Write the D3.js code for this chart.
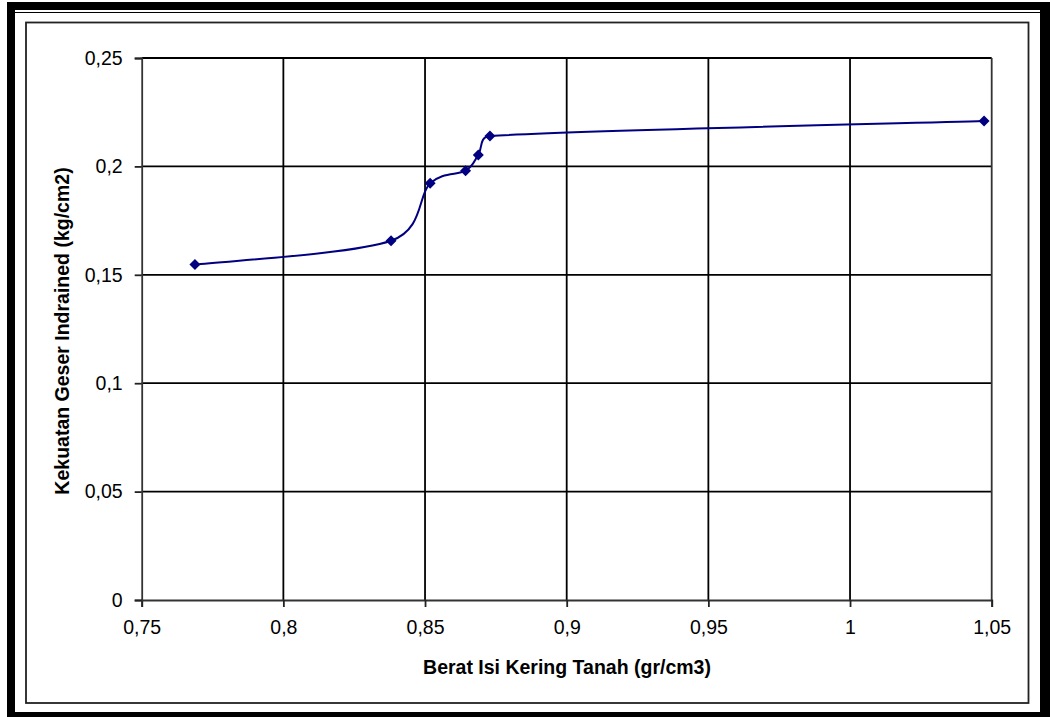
<!DOCTYPE html>
<html>
<head>
<meta charset="utf-8">
<script src="https://cdn.jsdelivr.net/npm/d3@7"></script>
<style>
  html, body { margin: 0; padding: 0; background: #fff; }
  svg { display: block; }
  text { font-family: "Liberation Sans", Arial, sans-serif; fill: #000; }
</style>
</head>
<body>
<svg id="chart" width="1050" height="717"></svg>
<script>
// ---- data ----
const beratIsi = [0.7688, 0.8380, 0.8518, 0.8643, 0.8688, 0.8729, 1.0473];
const kekuatanGeser = [0.1547, 0.1657, 0.1922, 0.1980, 0.2053, 0.2140, 0.2209];
const xTickValues = [0.75, 0.8, 0.85, 0.9, 0.95, 1, 1.05];
const yTickValues = [0, 0.05, 0.1, 0.15, 0.2, 0.25];
const xTitle = "Berat Isi Kering Tanah (gr/cm3)";
const yTitle = "Kekuatan Geser Indrained (kg/cm2)";

const points = beratIsi.map((x, i) => ({ x, y: kekuatanGeser[i] }));

const locale = d3.formatLocale({ decimal: ",", thousands: ".", grouping: [3], currency: ["", ""] });
const fmt = locale.format("~g");

// Spreadsheet-style smoothed line (Bezier with capped control points)
function SmoothCurve(context) { this._context = context; }
SmoothCurve.prototype = {
  areaStart() { this._line = 0; },
  areaEnd() { this._line = NaN; },
  lineStart() { this._pts = []; },
  point(x, y) { this._pts.push([+x, +y]); },
  lineEnd() {
    const p = this._pts, n = p.length, c = this._context;
    if (!n) return;
    c.moveTo(p[0][0], p[0][1]);
    if (n === 1) return;
    const dist = (a, b) => Math.hypot(b[0] - a[0], b[1] - a[1]);
    for (let i = 0; i < n - 1; i++) {
      const p0 = p[Math.max(0, i - 1)], p1 = p[i], p2 = p[i + 1], p3 = p[Math.min(n - 1, i + 2)];
      const d02 = dist(p0, p2), d12 = dist(p1, p2), d13 = dist(p1, p3);
      let f1 = 1 / 6, f2 = 1 / 6;
      if (d02 / 6 >= d12 / 2 && d02 > 0) f1 = d12 / d02 / 2;
      if (d13 / 6 >= d12 / 2 && d13 > 0) f2 = d12 / d13 / 2;
      const c1 = [p1[0] + (p2[0] - p0[0]) * f1, p1[1] + (p2[1] - p0[1]) * f1];
      const c2 = [p2[0] - (p3[0] - p1[0]) * f2, p2[1] - (p3[1] - p1[1]) * f2];
      c.bezierCurveTo(c1[0], c1[1], c2[0], c2[1], p2[0], p2[1]);
    }
  }
};
const curveSmooth = ctx => new SmoothCurve(ctx);

const svg = d3.select("#chart");

// ---- frame ----
svg.append("rect").attr("x", 7).attr("y", 2).attr("width", 1043).attr("height", 715).attr("fill", "#000");
svg.append("rect").attr("x", 15).attr("y", 10).attr("width", 1025).attr("height", 702).attr("fill", "#fff");
svg.append("line").attr("x1", 15).attr("x2", 1040).attr("y1", 12.5).attr("y2", 12.5).attr("stroke", "#000").attr("stroke-width", 1);
svg.append("rect").attr("x", 26).attr("y", 22.5).attr("width", 1002.5).attr("height", 680.5)
  .attr("fill", "#fff").attr("stroke", "#222").attr("stroke-width", 1.8);

// ---- scales ----
const x = d3.scaleLinear().domain([0.75, 1.05]).range([141.7, 991.7]);
const y = d3.scaleLinear().domain([0, 0.25]).range([600, 58]);

const plot = svg.append("g");

// gridlines
plot.append("g").selectAll("line").data(yTickValues.filter(v => v > 0)).join("line")
  .attr("x1", x(0.75)).attr("x2", x(1.05))
  .attr("y1", d => y(d)).attr("y2", d => y(d))
  .attr("stroke", "#000").attr("stroke-width", 1.8);
plot.append("g").selectAll("line").data(xTickValues.filter(v => v > 0.75 && v < 1.05)).join("line")
  .attr("x1", d => x(d)).attr("x2", d => x(d))
  .attr("y1", y(0.25)).attr("y2", y(0))
  .attr("stroke", "#000").attr("stroke-width", 1.8);
// right plot border
plot.append("line").attr("x1", x(1.05)).attr("x2", x(1.05)).attr("y1", y(0.25)).attr("y2", y(0))
  .attr("stroke", "#333").attr("stroke-width", 1.8);

// axes
const xAxis = d3.axisBottom(x).tickValues(xTickValues).tickFormat(fmt).tickSize(7).tickPadding(13);
const yAxis = d3.axisLeft(y).tickValues(yTickValues).tickFormat(fmt).tickSize(7).tickPadding(12);

const gx = svg.append("g").attr("transform", `translate(0,${y(0)})`).call(xAxis);
const gy = svg.append("g").attr("transform", `translate(${x(0.75)},0)`).call(yAxis);
[gx, gy].forEach(g => {
  g.select(".domain").attr("stroke", "#333").attr("stroke-width", 1.8);
  g.selectAll(".tick line").attr("stroke", "#222").attr("stroke-width", 1.8);
  g.selectAll(".tick text").attr("font-size", 19.5).attr("font-family", "Liberation Sans, Arial, sans-serif").attr("fill", "#000");
});

// series line
const line = d3.line().x(d => x(d.x)).y(d => y(d.y)).curve(curveSmooth);
svg.append("path").datum(points).attr("d", line)
  .attr("fill", "none").attr("stroke", "#000080").attr("stroke-width", 2);

// markers
svg.append("g").selectAll("path").data(points).join("path")
  .attr("transform", d => `translate(${x(d.x)},${y(d.y)})`)
  .attr("d", "M0,-5.5L5.5,0L0,5.5L-5.5,0Z")
  .attr("fill", "#000080");

// titles
svg.append("text").attr("x", 567).attr("y", 674).attr("text-anchor", "middle")
  .attr("font-size", 19.5).attr("font-weight", "bold").text(xTitle);
svg.append("text").attr("transform", `translate(69,${y(0.125) + 2}) rotate(-90)`).attr("text-anchor", "middle")
  .attr("font-size", 19.5).attr("font-weight", "bold").text(yTitle);
</script>
</body>
</html>
